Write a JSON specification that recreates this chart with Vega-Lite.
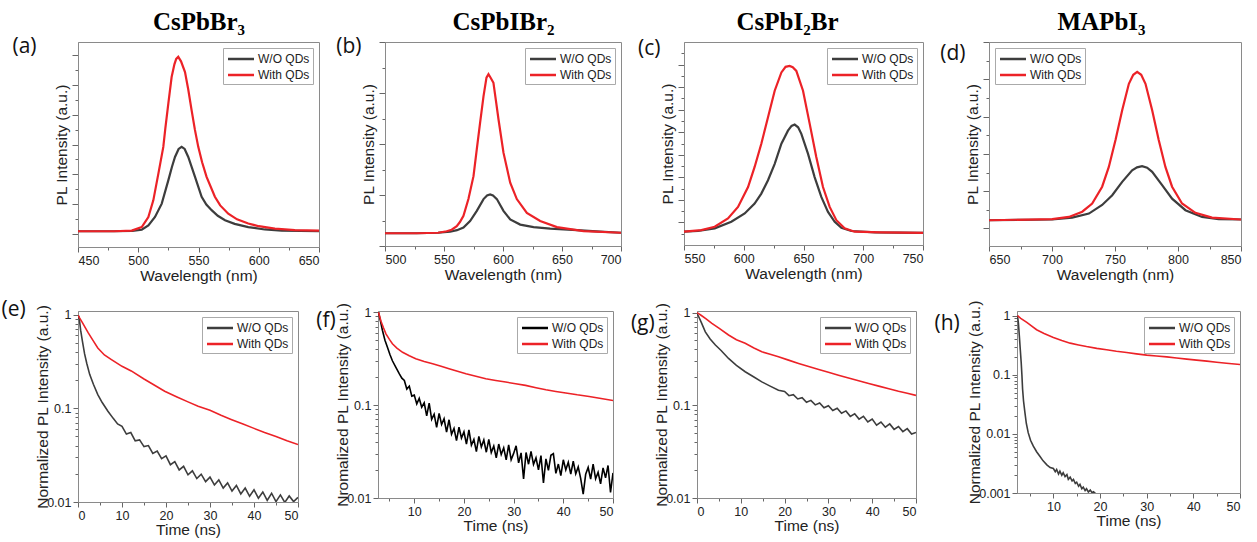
{
"$schema": "https://vega.github.io/schema/vega-lite/v6.json",
"padding": {"left": 0, "top": 8, "right": 5, "bottom": 2},
"resolve": {"scale": {"color": "independent"}},
"datasets": {
"a": [
{"s":"W/O QDs","x":450,"y":0.08},{"s":"W/O QDs","x":480,"y":0.08},{"s":"W/O QDs","x":495,"y":0.09},{"s":"W/O QDs","x":502.9,"y":0.13},{"s":"W/O QDs","x":508.4,"y":0.28},{"s":"W/O QDs","x":513.9,"y":0.56},{"s":"W/O QDs","x":519.5,"y":1.01},{"s":"W/O QDs","x":525,"y":1.8},{"s":"W/O QDs","x":528,"y":2.25},{"s":"W/O QDs","x":530.5,"y":2.58},{"s":"W/O QDs","x":533.5,"y":2.85},{"s":"W/O QDs","x":536,"y":2.92},{"s":"W/O QDs","x":538.5,"y":2.85},{"s":"W/O QDs","x":541.5,"y":2.58},{"s":"W/O QDs","x":544.3,"y":2.25},{"s":"W/O QDs","x":547.1,"y":1.91},{"s":"W/O QDs","x":552.6,"y":1.24},{"s":"W/O QDs","x":556.5,"y":0.98},{"s":"W/O QDs","x":560.9,"y":0.79},{"s":"W/O QDs","x":566,"y":0.6},{"s":"W/O QDs","x":572,"y":0.45},{"s":"W/O QDs","x":580,"y":0.33},{"s":"W/O QDs","x":591.3,"y":0.22},{"s":"W/O QDs","x":605,"y":0.14},{"s":"W/O QDs","x":619,"y":0.1},{"s":"W/O QDs","x":650,"y":0.08},
{"s":"With QDs","x":450,"y":0.08},{"s":"With QDs","x":480,"y":0.08},{"s":"With QDs","x":494.6,"y":0.1},{"s":"With QDs","x":502.9,"y":0.22},{"s":"With QDs","x":508.4,"y":0.56},{"s":"With QDs","x":512.5,"y":1.12},{"s":"With QDs","x":516.7,"y":2.02},{"s":"With QDs","x":520.8,"y":2.92},{"s":"With QDs","x":522.5,"y":3.55},{"s":"With QDs","x":525,"y":4.39},{"s":"With QDs","x":527.7,"y":5.27},{"s":"With QDs","x":530,"y":5.7},{"s":"With QDs","x":531.5,"y":5.88},{"s":"With QDs","x":533.2,"y":5.95},{"s":"With QDs","x":535.5,"y":5.8},{"s":"With QDs","x":538.8,"y":5.44},{"s":"With QDs","x":541.5,"y":4.85},{"s":"With QDs","x":544.3,"y":4.15},{"s":"With QDs","x":547,"y":3.5},{"s":"With QDs","x":549.8,"y":2.92},{"s":"With QDs","x":553,"y":2.4},{"s":"With QDs","x":556.7,"y":1.91},{"s":"With QDs","x":563.6,"y":1.24},{"s":"With QDs","x":568,"y":0.95},{"s":"With QDs","x":574.7,"y":0.67},{"s":"With QDs","x":582,"y":0.48},{"s":"With QDs","x":591.3,"y":0.34},{"s":"With QDs","x":600,"y":0.25},{"s":"With QDs","x":613.4,"y":0.17},{"s":"With QDs","x":630,"y":0.12},{"s":"With QDs","x":650,"y":0.1}
],
"b": [
{"s":"W/O QDs","x":500,"y":0.25},{"s":"W/O QDs","x":527,"y":0.25},{"s":"W/O QDs","x":545,"y":0.26},{"s":"W/O QDs","x":555.2,"y":0.28},{"s":"W/O QDs","x":561,"y":0.31},{"s":"W/O QDs","x":566.5,"y":0.36},{"s":"W/O QDs","x":572.1,"y":0.49},{"s":"W/O QDs","x":577.8,"y":0.69},{"s":"W/O QDs","x":583.5,"y":0.92},{"s":"W/O QDs","x":586.5,"y":0.99},{"s":"W/O QDs","x":589.1,"y":1.01},{"s":"W/O QDs","x":591.5,"y":0.99},{"s":"W/O QDs","x":594.8,"y":0.92},{"s":"W/O QDs","x":600.4,"y":0.69},{"s":"W/O QDs","x":606.1,"y":0.52},{"s":"W/O QDs","x":614.6,"y":0.42},{"s":"W/O QDs","x":625.9,"y":0.37},{"s":"W/O QDs","x":640,"y":0.34},{"s":"W/O QDs","x":662.7,"y":0.31},{"s":"W/O QDs","x":682.5,"y":0.28},{"s":"W/O QDs","x":700,"y":0.26},
{"s":"With QDs","x":500,"y":0.25},{"s":"With QDs","x":526.9,"y":0.25},{"s":"With QDs","x":545,"y":0.26},{"s":"With QDs","x":552.3,"y":0.29},{"s":"With QDs","x":556.5,"y":0.32},{"s":"With QDs","x":560.8,"y":0.39},{"s":"With QDs","x":563.5,"y":0.47},{"s":"With QDs","x":566.5,"y":0.59},{"s":"With QDs","x":570.7,"y":0.92},{"s":"With QDs","x":575,"y":1.37},{"s":"With QDs","x":577.8,"y":1.9},{"s":"With QDs","x":580.6,"y":2.42},{"s":"With QDs","x":583.5,"y":2.94},{"s":"With QDs","x":586,"y":3.3},{"s":"With QDs","x":587.7,"y":3.37},{"s":"With QDs","x":589.5,"y":3.3},{"s":"With QDs","x":591.9,"y":3.2},{"s":"With QDs","x":594,"y":2.85},{"s":"With QDs","x":596.2,"y":2.48},{"s":"With QDs","x":600.4,"y":1.83},{"s":"With QDs","x":606.1,"y":1.24},{"s":"With QDs","x":611.7,"y":0.92},{"s":"With QDs","x":620.2,"y":0.65},{"s":"With QDs","x":631.5,"y":0.49},{"s":"With QDs","x":645.7,"y":0.37},{"s":"With QDs","x":668.3,"y":0.29},{"s":"With QDs","x":700,"y":0.26}
],
"c": [
{"s":"W/O QDs","x":550,"y":0.59},{"s":"W/O QDs","x":561.7,"y":0.62},{"s":"W/O QDs","x":575.7,"y":0.74},{"s":"W/O QDs","x":589.6,"y":1.03},{"s":"W/O QDs","x":600.8,"y":1.4},{"s":"W/O QDs","x":609.1,"y":1.84},{"s":"W/O QDs","x":614.7,"y":2.28},{"s":"W/O QDs","x":620.3,"y":2.87},{"s":"W/O QDs","x":625.9,"y":3.6},{"s":"W/O QDs","x":631.5,"y":4.49},{"s":"W/O QDs","x":637,"y":5.07},{"s":"W/O QDs","x":640,"y":5.28},{"s":"W/O QDs","x":642.6,"y":5.34},{"s":"W/O QDs","x":645.5,"y":5.22},{"s":"W/O QDs","x":648.2,"y":4.93},{"s":"W/O QDs","x":653.8,"y":4.04},{"s":"W/O QDs","x":659.3,"y":3.01},{"s":"W/O QDs","x":664.9,"y":2.13},{"s":"W/O QDs","x":670.5,"y":1.47},{"s":"W/O QDs","x":676.1,"y":1.03},{"s":"W/O QDs","x":681.7,"y":0.76},{"s":"W/O QDs","x":690,"y":0.62},{"s":"W/O QDs","x":710,"y":0.56},{"s":"W/O QDs","x":750,"y":0.54},
{"s":"With QDs","x":550,"y":0.59},{"s":"With QDs","x":564.5,"y":0.66},{"s":"With QDs","x":575.7,"y":0.81},{"s":"With QDs","x":586.8,"y":1.18},{"s":"With QDs","x":595.2,"y":1.69},{"s":"With QDs","x":603.6,"y":2.57},{"s":"With QDs","x":609.1,"y":3.46},{"s":"With QDs","x":614.7,"y":4.49},{"s":"With QDs","x":620.3,"y":5.66},{"s":"With QDs","x":625.9,"y":6.84},{"s":"With QDs","x":631.5,"y":7.65},{"s":"With QDs","x":635,"y":7.9},{"s":"With QDs","x":638.4,"y":7.94},{"s":"With QDs","x":641,"y":7.88},{"s":"With QDs","x":644,"y":7.72},{"s":"With QDs","x":649.6,"y":6.84},{"s":"With QDs","x":655.2,"y":5.37},{"s":"With QDs","x":660.7,"y":3.9},{"s":"With QDs","x":666.3,"y":2.57},{"s":"With QDs","x":671.9,"y":1.69},{"s":"With QDs","x":677.5,"y":1.1},{"s":"With QDs","x":684.4,"y":0.74},{"s":"With QDs","x":692.8,"y":0.59},{"s":"With QDs","x":715,"y":0.56},{"s":"With QDs","x":750,"y":0.54}
],
"d": [
{"s":"W/O QDs","x":650,"y":0.22},{"s":"W/O QDs","x":700.2,"y":0.24},{"s":"W/O QDs","x":716,"y":0.29},{"s":"W/O QDs","x":729.3,"y":0.4},{"s":"W/O QDs","x":739.8,"y":0.63},{"s":"W/O QDs","x":747.8,"y":0.89},{"s":"W/O QDs","x":755.7,"y":1.25},{"s":"W/O QDs","x":763.6,"y":1.56},{"s":"W/O QDs","x":767.5,"y":1.64},{"s":"W/O QDs","x":771.5,"y":1.67},{"s":"W/O QDs","x":775.5,"y":1.63},{"s":"W/O QDs","x":779.5,"y":1.52},{"s":"W/O QDs","x":787.4,"y":1.16},{"s":"W/O QDs","x":795.3,"y":0.8},{"s":"W/O QDs","x":805.9,"y":0.49},{"s":"W/O QDs","x":819.1,"y":0.31},{"s":"W/O QDs","x":832.3,"y":0.25},{"s":"W/O QDs","x":850,"y":0.24},
{"s":"With QDs","x":650,"y":0.22},{"s":"With QDs","x":700.2,"y":0.25},{"s":"With QDs","x":713.4,"y":0.31},{"s":"With QDs","x":724,"y":0.45},{"s":"With QDs","x":731.9,"y":0.67},{"s":"With QDs","x":739.8,"y":1.12},{"s":"With QDs","x":745.1,"y":1.65},{"s":"With QDs","x":750.4,"y":2.37},{"s":"With QDs","x":755.7,"y":3.17},{"s":"With QDs","x":761,"y":3.88},{"s":"With QDs","x":764.5,"y":4.12},{"s":"With QDs","x":767.6,"y":4.2},{"s":"With QDs","x":770.8,"y":4.12},{"s":"With QDs","x":774.2,"y":3.88},{"s":"With QDs","x":779.5,"y":3.17},{"s":"With QDs","x":784.7,"y":2.37},{"s":"With QDs","x":790,"y":1.65},{"s":"With QDs","x":795.3,"y":1.12},{"s":"With QDs","x":803.2,"y":0.67},{"s":"With QDs","x":813.8,"y":0.42},{"s":"With QDs","x":827,"y":0.29},{"s":"With QDs","x":850,"y":0.24}
],
"e": [
{"s":"W/O QDs","x":0,"y":0.9},{"s":"W/O QDs","x":0.2,"y":0.97},{"s":"W/O QDs","x":0.4,"y":0.82},{"s":"W/O QDs","x":0.6,"y":0.68},{"s":"W/O QDs","x":1,"y":0.52},{"s":"W/O QDs","x":1.5,"y":0.38},{"s":"W/O QDs","x":2,"y":0.3},{"s":"W/O QDs","x":2.65,"y":0.23},{"s":"W/O QDs","x":3.5,"y":0.18},{"s":"W/O QDs","x":4.5,"y":0.14},{"s":"W/O QDs","x":5.5,"y":0.115},{"s":"W/O QDs","x":6.8,"y":0.093},{"s":"W/O QDs","x":8,"y":0.078},{"s":"W/O QDs","x":9,"y":0.068},
{"s":"W/O QDs","x":10,"y":0.064},{"s":"W/O QDs","x":11,"y":0.053},{"s":"W/O QDs","x":12,"y":0.055},{"s":"W/O QDs","x":13,"y":0.045},{"s":"W/O QDs","x":14,"y":0.046},{"s":"W/O QDs","x":15,"y":0.039},{"s":"W/O QDs","x":16,"y":0.04},{"s":"W/O QDs","x":17,"y":0.033},{"s":"W/O QDs","x":18,"y":0.035},{"s":"W/O QDs","x":19,"y":0.029},{"s":"W/O QDs","x":20,"y":0.031},{"s":"W/O QDs","x":21,"y":0.025},{"s":"W/O QDs","x":22,"y":0.027},{"s":"W/O QDs","x":23,"y":0.022},{"s":"W/O QDs","x":24,"y":0.024},{"s":"W/O QDs","x":25,"y":0.0195},{"s":"W/O QDs","x":26,"y":0.0215},{"s":"W/O QDs","x":27,"y":0.0178},{"s":"W/O QDs","x":28,"y":0.0198},{"s":"W/O QDs","x":29,"y":0.0165},{"s":"W/O QDs","x":30,"y":0.0184},{"s":"W/O QDs","x":31,"y":0.0152},{"s":"W/O QDs","x":32,"y":0.0172},{"s":"W/O QDs","x":33,"y":0.0141},{"s":"W/O QDs","x":34,"y":0.016},{"s":"W/O QDs","x":35,"y":0.0131},{"s":"W/O QDs","x":36,"y":0.015},{"s":"W/O QDs","x":37,"y":0.0122},{"s":"W/O QDs","x":38,"y":0.0141},{"s":"W/O QDs","x":39,"y":0.0115},{"s":"W/O QDs","x":40,"y":0.0135},{"s":"W/O QDs","x":41,"y":0.011},{"s":"W/O QDs","x":42,"y":0.0128},{"s":"W/O QDs","x":43,"y":0.0104},{"s":"W/O QDs","x":44,"y":0.0124},{"s":"W/O QDs","x":45,"y":0.0101},{"s":"W/O QDs","x":46,"y":0.0119},{"s":"W/O QDs","x":47,"y":0.0099},{"s":"W/O QDs","x":48,"y":0.0116},{"s":"W/O QDs","x":49,"y":0.0101},{"s":"W/O QDs","x":50,"y":0.0112},
{"s":"With QDs","x":0,"y":0.98},{"s":"With QDs","x":1,"y":0.82},{"s":"With QDs","x":2.3,"y":0.64},{"s":"With QDs","x":3.4,"y":0.53},{"s":"With QDs","x":4.5,"y":0.44},{"s":"With QDs","x":6,"y":0.37},{"s":"With QDs","x":7.6,"y":0.33},{"s":"With QDs","x":10,"y":0.28},{"s":"With QDs","x":12.1,"y":0.25},{"s":"With QDs","x":15,"y":0.205},{"s":"With QDs","x":17.5,"y":0.175},{"s":"With QDs","x":19.7,"y":0.152},{"s":"With QDs","x":22.5,"y":0.132},{"s":"With QDs","x":25,"y":0.117},{"s":"With QDs","x":27.3,"y":0.105},{"s":"With QDs","x":30,"y":0.095},{"s":"With QDs","x":32.5,"y":0.084},{"s":"With QDs","x":34.8,"y":0.076},{"s":"With QDs","x":37.5,"y":0.068},{"s":"With QDs","x":40,"y":0.061},{"s":"With QDs","x":42.4,"y":0.055},{"s":"With QDs","x":45,"y":0.05},{"s":"With QDs","x":47.5,"y":0.045},{"s":"With QDs","x":50,"y":0.041}
],
"f": [
{"s":"W/O QDs","x":2.8,"y":1.0},{"s":"W/O QDs","x":3.2,"y":0.8},{"s":"W/O QDs","x":3.6,"y":0.635},{"s":"W/O QDs","x":4.1,"y":0.5},{"s":"W/O QDs","x":4.6,"y":0.42},{"s":"W/O QDs","x":5.1,"y":0.35},{"s":"W/O QDs","x":5.6,"y":0.3},{"s":"W/O QDs","x":6.3,"y":0.255},{"s":"W/O QDs","x":7,"y":0.217},{"s":"W/O QDs","x":7.5,"y":0.195},
{"s":"W/O QDs","x":8,"y":0.184},{"s":"W/O QDs","x":8.5,"y":0.149},{"s":"W/O QDs","x":9,"y":0.16},{"s":"W/O QDs","x":9.5,"y":0.125},{"s":"W/O QDs","x":10,"y":0.128},{"s":"W/O QDs","x":10.5,"y":0.103},{"s":"W/O QDs","x":11,"y":0.118},{"s":"W/O QDs","x":11.5,"y":0.095},{"s":"W/O QDs","x":12,"y":0.106},{"s":"W/O QDs","x":12.5,"y":0.0765},{"s":"W/O QDs","x":13,"y":0.105},{"s":"W/O QDs","x":13.5,"y":0.0704},{"s":"W/O QDs","x":14,"y":0.0798},{"s":"W/O QDs","x":14.5,"y":0.0576},{"s":"W/O QDs","x":15,"y":0.0816},{"s":"W/O QDs","x":15.5,"y":0.0618},{"s":"W/O QDs","x":16,"y":0.0713},{"s":"W/O QDs","x":16.5,"y":0.0513},{"s":"W/O QDs","x":17,"y":0.0695},{"s":"W/O QDs","x":17.5,"y":0.0486},{"s":"W/O QDs","x":18,"y":0.0562},{"s":"W/O QDs","x":18.5,"y":0.0414},{"s":"W/O QDs","x":19,"y":0.0578},{"s":"W/O QDs","x":19.5,"y":0.0442},{"s":"W/O QDs","x":20,"y":0.0515},{"s":"W/O QDs","x":20.5,"y":0.038},{"s":"W/O QDs","x":21,"y":0.0541},{"s":"W/O QDs","x":21.5,"y":0.037},{"s":"W/O QDs","x":22,"y":0.0427},{"s":"W/O QDs","x":22.5,"y":0.0316},{"s":"W/O QDs","x":23,"y":0.046},{"s":"W/O QDs","x":23.5,"y":0.0355},{"s":"W/O QDs","x":24,"y":0.0421},{"s":"W/O QDs","x":24.5,"y":0.0311},{"s":"W/O QDs","x":25,"y":0.0427},{"s":"W/O QDs","x":25.5,"y":0.0309},{"s":"W/O QDs","x":26,"y":0.0363},{"s":"W/O QDs","x":26.5,"y":0.0271},{"s":"W/O QDs","x":27,"y":0.0381},{"s":"W/O QDs","x":27.5,"y":0.0294},{"s":"W/O QDs","x":28,"y":0.0347},{"s":"W/O QDs","x":28.5,"y":0.0258},{"s":"W/O QDs","x":29,"y":0.0373},{"s":"W/O QDs","x":29.5,"y":0.0258},{"s":"W/O QDs","x":30,"y":0.0302},{"s":"W/O QDs","x":30.5,"y":0.0365},{"s":"W/O QDs","x":31,"y":0.0239},{"s":"W/O QDs","x":31.5,"y":0.0306},{"s":"W/O QDs","x":32,"y":0.016},{"s":"W/O QDs","x":32.5,"y":0.0309},{"s":"W/O QDs","x":33,"y":0.0231},{"s":"W/O QDs","x":33.5,"y":0.0317},{"s":"W/O QDs","x":34,"y":0.023},{"s":"W/O QDs","x":34.5,"y":0.027},{"s":"W/O QDs","x":35,"y":0.0201},{"s":"W/O QDs","x":35.5,"y":0.0286},{"s":"W/O QDs","x":36,"y":0.0145},{"s":"W/O QDs","x":36.5,"y":0.0264},{"s":"W/O QDs","x":37,"y":0.0198},{"s":"W/O QDs","x":37.5,"y":0.0288},{"s":"W/O QDs","x":38,"y":0.03},{"s":"W/O QDs","x":38.5,"y":0.0184},{"s":"W/O QDs","x":39,"y":0.0232},{"s":"W/O QDs","x":39.5,"y":0.0174},{"s":"W/O QDs","x":40,"y":0.0258},{"s":"W/O QDs","x":40.5,"y":0.0201},{"s":"W/O QDs","x":41,"y":0.0242},{"s":"W/O QDs","x":41.5,"y":0.0181},{"s":"W/O QDs","x":42,"y":0.025},{"s":"W/O QDs","x":42.5,"y":0.0182},{"s":"W/O QDs","x":43,"y":0.0216},{"s":"W/O QDs","x":43.5,"y":0.0162},{"s":"W/O QDs","x":44,"y":0.011},{"s":"W/O QDs","x":44.5,"y":0.018},{"s":"W/O QDs","x":45,"y":0.0213},{"s":"W/O QDs","x":45.5,"y":0.016},{"s":"W/O QDs","x":46,"y":0.0231},{"s":"W/O QDs","x":46.5,"y":0.0161},{"s":"W/O QDs","x":47,"y":0.0189},{"s":"W/O QDs","x":47.5,"y":0.0142},{"s":"W/O QDs","x":48,"y":0.0211},{"s":"W/O QDs","x":48.5,"y":0.0165},{"s":"W/O QDs","x":49,"y":0.0224},{"s":"W/O QDs","x":49.5,"y":0.0115},{"s":"W/O QDs","x":50,"y":0.0186},
{"s":"With QDs","x":2.8,"y":1.0},{"s":"With QDs","x":3.3,"y":0.8},{"s":"With QDs","x":3.8,"y":0.68},{"s":"With QDs","x":4.3,"y":0.585},{"s":"With QDs","x":5,"y":0.51},{"s":"With QDs","x":5.6,"y":0.457},{"s":"With QDs","x":6.5,"y":0.41},{"s":"With QDs","x":7.65,"y":0.37},{"s":"With QDs","x":9,"y":0.34},{"s":"With QDs","x":10.3,"y":0.316},{"s":"With QDs","x":12,"y":0.295},{"s":"With QDs","x":13.7,"y":0.278},{"s":"With QDs","x":15.4,"y":0.262},{"s":"With QDs","x":17,"y":0.246},{"s":"With QDs","x":18.7,"y":0.231},{"s":"With QDs","x":20.4,"y":0.217},{"s":"With QDs","x":22.4,"y":0.204},{"s":"With QDs","x":24.4,"y":0.192},{"s":"With QDs","x":26.4,"y":0.184},{"s":"With QDs","x":28.4,"y":0.177},{"s":"With QDs","x":30.4,"y":0.17},{"s":"With QDs","x":32.4,"y":0.163},{"s":"With QDs","x":34.5,"y":0.154},{"s":"With QDs","x":36.5,"y":0.146},{"s":"With QDs","x":38.5,"y":0.14},{"s":"With QDs","x":40.5,"y":0.135},{"s":"With QDs","x":42.8,"y":0.129},{"s":"With QDs","x":45.2,"y":0.124},{"s":"With QDs","x":47.6,"y":0.118},{"s":"With QDs","x":50,"y":0.112}
],
"g": [
{"s":"W/O QDs","x":0,"y":0.98},{"s":"W/O QDs","x":0.5,"y":0.88},{"s":"W/O QDs","x":1,"y":0.78},{"s":"W/O QDs","x":1.9,"y":0.62},{"s":"W/O QDs","x":3,"y":0.52},{"s":"W/O QDs","x":4.2,"y":0.447},{"s":"W/O QDs","x":5.5,"y":0.39},{"s":"W/O QDs","x":7.2,"y":0.32},{"s":"W/O QDs","x":9,"y":0.27},{"s":"W/O QDs","x":11,"y":0.23},{"s":"W/O QDs","x":12.9,"y":0.203},{"s":"W/O QDs","x":14.8,"y":0.179},{"s":"W/O QDs","x":16.7,"y":0.161},{"s":"W/O QDs","x":18.6,"y":0.145},
{"s":"W/O QDs","x":20,"y":0.141},{"s":"W/O QDs","x":21,"y":0.127},{"s":"W/O QDs","x":22,"y":0.13},{"s":"W/O QDs","x":23,"y":0.117},{"s":"W/O QDs","x":24,"y":0.121},{"s":"W/O QDs","x":25,"y":0.108},{"s":"W/O QDs","x":26,"y":0.113},{"s":"W/O QDs","x":27,"y":0.101},{"s":"W/O QDs","x":28,"y":0.106},{"s":"W/O QDs","x":29,"y":0.094},{"s":"W/O QDs","x":30,"y":0.099},{"s":"W/O QDs","x":31,"y":0.088},{"s":"W/O QDs","x":32,"y":0.093},{"s":"W/O QDs","x":33,"y":0.082},{"s":"W/O QDs","x":34,"y":0.087},{"s":"W/O QDs","x":35,"y":0.076},{"s":"W/O QDs","x":36,"y":0.081},{"s":"W/O QDs","x":37,"y":0.071},{"s":"W/O QDs","x":38,"y":0.076},{"s":"W/O QDs","x":39,"y":0.066},{"s":"W/O QDs","x":40,"y":0.071},{"s":"W/O QDs","x":41,"y":0.061},{"s":"W/O QDs","x":42,"y":0.066},{"s":"W/O QDs","x":43,"y":0.058},{"s":"W/O QDs","x":44,"y":0.063},{"s":"W/O QDs","x":45,"y":0.055},{"s":"W/O QDs","x":46,"y":0.059},{"s":"W/O QDs","x":47,"y":0.052},{"s":"W/O QDs","x":48,"y":0.056},{"s":"W/O QDs","x":49,"y":0.049},{"s":"W/O QDs","x":50,"y":0.051},
{"s":"With QDs","x":0,"y":1.0},{"s":"With QDs","x":1,"y":0.93},{"s":"With QDs","x":2,"y":0.86},{"s":"With QDs","x":3.4,"y":0.766},{"s":"With QDs","x":5,"y":0.68},{"s":"With QDs","x":7.2,"y":0.573},{"s":"With QDs","x":9,"y":0.51},{"s":"With QDs","x":11,"y":0.466},{"s":"With QDs","x":13,"y":0.415},{"s":"With QDs","x":14.8,"y":0.378},{"s":"With QDs","x":16.7,"y":0.355},{"s":"With QDs","x":18.6,"y":0.334},{"s":"With QDs","x":20.9,"y":0.307},{"s":"With QDs","x":23.2,"y":0.283},{"s":"With QDs","x":25.5,"y":0.262},{"s":"With QDs","x":27.8,"y":0.243},{"s":"With QDs","x":30,"y":0.227},{"s":"With QDs","x":32.3,"y":0.211},{"s":"With QDs","x":34.6,"y":0.197},{"s":"With QDs","x":36.9,"y":0.184},{"s":"With QDs","x":39.2,"y":0.172},{"s":"With QDs","x":41.5,"y":0.161},{"s":"With QDs","x":43.8,"y":0.151},{"s":"With QDs","x":46,"y":0.142},{"s":"With QDs","x":48,"y":0.135},{"s":"With QDs","x":50,"y":0.128}
],
"h": [
{"s":"W/O QDs","x":2.3,"y":1.0},{"s":"W/O QDs","x":2.5,"y":0.75},{"s":"W/O QDs","x":2.7,"y":0.457},{"s":"W/O QDs","x":2.9,"y":0.27},{"s":"W/O QDs","x":3.1,"y":0.161},{"s":"W/O QDs","x":3.25,"y":0.1},{"s":"W/O QDs","x":3.4,"y":0.057},{"s":"W/O QDs","x":3.6,"y":0.036},{"s":"W/O QDs","x":3.9,"y":0.0229},{"s":"W/O QDs","x":4.2,"y":0.015},{"s":"W/O QDs","x":4.6,"y":0.0105},{"s":"W/O QDs","x":5.1,"y":0.0078},{"s":"W/O QDs","x":5.7,"y":0.0062},{"s":"W/O QDs","x":6.4,"y":0.005},{"s":"W/O QDs","x":7.1,"y":0.0042},{"s":"W/O QDs","x":7.8,"y":0.0035},{"s":"W/O QDs","x":8.6,"y":0.003},{"s":"W/O QDs","x":9.3,"y":0.0027},{"s":"W/O QDs","x":10,"y":0.0026},{"s":"W/O QDs","x":10.4,"y":0.0023},{"s":"W/O QDs","x":10.7,"y":0.0025},{"s":"W/O QDs","x":11.1,"y":0.0021},{"s":"W/O QDs","x":11.4,"y":0.00235},{"s":"W/O QDs","x":11.8,"y":0.002},{"s":"W/O QDs","x":12.1,"y":0.0022},{"s":"W/O QDs","x":12.5,"y":0.0019},{"s":"W/O QDs","x":12.9,"y":0.00205},{"s":"W/O QDs","x":13.2,"y":0.0017},{"s":"W/O QDs","x":13.6,"y":0.00185},{"s":"W/O QDs","x":14,"y":0.0016},{"s":"W/O QDs","x":14.3,"y":0.0017},{"s":"W/O QDs","x":14.7,"y":0.00145},{"s":"W/O QDs","x":15,"y":0.00152},{"s":"W/O QDs","x":15.4,"y":0.0013},{"s":"W/O QDs","x":15.7,"y":0.0014},{"s":"W/O QDs","x":16.1,"y":0.00118},{"s":"W/O QDs","x":16.4,"y":0.00126},{"s":"W/O QDs","x":16.8,"y":0.0011},{"s":"W/O QDs","x":17.1,"y":0.00118},{"s":"W/O QDs","x":17.5,"y":0.00104},{"s":"W/O QDs","x":17.9,"y":0.00112},{"s":"W/O QDs","x":18.3,"y":0.00101},{"s":"W/O QDs","x":18.6,"y":0.00105},{"s":"W/O QDs","x":19,"y":0.00099},
{"s":"With QDs","x":2.3,"y":1.0},{"s":"With QDs","x":3,"y":0.9},{"s":"With QDs","x":4.3,"y":0.77},{"s":"With QDs","x":5.3,"y":0.67},{"s":"With QDs","x":6.4,"y":0.578},{"s":"With QDs","x":8,"y":0.5},{"s":"With QDs","x":10,"y":0.428},{"s":"With QDs","x":11.8,"y":0.38},{"s":"With QDs","x":13.6,"y":0.343},{"s":"With QDs","x":15.4,"y":0.32},{"s":"With QDs","x":17.1,"y":0.3},{"s":"With QDs","x":19.3,"y":0.28},{"s":"With QDs","x":21.4,"y":0.265},{"s":"With QDs","x":23.5,"y":0.25},{"s":"With QDs","x":25.7,"y":0.238},{"s":"With QDs","x":27.8,"y":0.226},{"s":"With QDs","x":30,"y":0.215},{"s":"With QDs","x":32.1,"y":0.208},{"s":"With QDs","x":34.3,"y":0.201},{"s":"With QDs","x":36.4,"y":0.192},{"s":"With QDs","x":38.6,"y":0.184},{"s":"With QDs","x":40.7,"y":0.177},{"s":"With QDs","x":42.9,"y":0.17},{"s":"With QDs","x":45,"y":0.163},{"s":"With QDs","x":47.1,"y":0.157},{"s":"With QDs","x":50,"y":0.149}
]
},
"vconcat": [
{"spacing": 11, "resolve": {"scale": {"color": "independent"}}, "hconcat": [
 {"width": 241, "height": 205, "data": {"name": "a"},
  "title": {"text": "(a)", "orient": "left", "anchor": "end", "frame": "group", "angle": 0, "align": "left", "baseline": "top", "offset": 18, "dy": -6},
  "resolve": {"axis": {"x": "independent"}},
  "layer": [
   {"mark": {"type": "line", "strokeWidth": 2.2},
    "encoding": {
     "x": {"field": "x", "type": "quantitative", "scale": {"domain": [450, 650], "nice": false, "zero": false}, "axis": {"title": "Wavelength (nm)", "values": [450,475,500,525,550,575,600,625,650], "labelExpr": "datum.value % 50 === 0 ? datum.label : ''", "tickSize": {"condition": {"test": "datum.value % 50 === 0", "value": 5}, "value": 3}}},
     "y": {"field": "y", "type": "quantitative", "scale": {"domain": [-0.45, 6.45], "nice": false, "zero": false}, "axis": {"title": "PL Intensity (a.u.)", "labels": false, "values": [0,0.5,1,1.5,2,2.5,3,3.5,4,4.5,5,5.5,6], "tickSize": {"condition": {"test": "datum.value % 1 === 0", "value": 6}, "value": 3}}},
     "color": {"field": "s", "type": "nominal", "scale": {"domain": ["W/O QDs","With QDs"], "range": ["#3d3d3d","#ec2227"]}, "legend": {"title": null, "orient": "top-right"}}
    }},
   {"mark": {"type": "rule", "opacity": 0},
    "encoding": {"x": {"field": "x", "type": "quantitative", "axis": {"orient": "top", "title": "CsPbBr₃", "labels": false, "ticks": false, "domain": false, "titleFont": "Liberation Serif", "titleFontSize": 25, "titleFontWeight": "bold", "titleColor": "#000", "titlePadding": 8}}}}
  ]},
 {"width": 236, "height": 204, "data": {"name": "b"},
  "title": {"text": "(b)", "orient": "left", "anchor": "end", "frame": "group", "angle": 0, "align": "left", "baseline": "top", "offset": 0, "dy": -6},
  "resolve": {"axis": {"x": "independent"}},
  "layer": [
   {"mark": {"type": "line", "strokeWidth": 2.2},
    "encoding": {
     "x": {"field": "x", "type": "quantitative", "scale": {"domain": [500, 700], "nice": false, "zero": false}, "axis": {"title": "Wavelength (nm)", "values": [500,525,550,575,600,625,650,675,700], "labelExpr": "datum.value % 50 === 0 ? datum.label : ''", "tickSize": {"condition": {"test": "datum.value % 50 === 0", "value": 5}, "value": 3}}},
     "y": {"field": "y", "type": "quantitative", "scale": {"domain": [0, 4], "nice": false, "zero": false}, "axis": {"title": "PL Intensity (a.u.)", "labels": false, "values": [0,0.5,1,1.5,2,2.5,3,3.5,4], "tickSize": {"condition": {"test": "datum.value % 1 === 0", "value": 6}, "value": 3}}},
     "color": {"field": "s", "type": "nominal", "scale": {"domain": ["W/O QDs","With QDs"], "range": ["#3d3d3d","#ec2227"]}, "legend": {"title": null, "orient": "top-right"}}
    }},
   {"mark": {"type": "rule", "opacity": 0},
    "encoding": {"x": {"field": "x", "type": "quantitative", "axis": {"orient": "top", "title": "CsPbIBr₂", "labels": false, "ticks": false, "domain": false, "titleFont": "Liberation Serif", "titleFontSize": 25, "titleFontWeight": "bold", "titleColor": "#000", "titlePadding": 8}}}}
  ]},
 {"width": 239, "height": 203, "data": {"name": "c"},
  "title": {"text": "(c)", "orient": "left", "anchor": "end", "frame": "group", "angle": 0, "align": "left", "baseline": "top", "offset": 0, "dy": -4},
  "resolve": {"axis": {"x": "independent"}},
  "layer": [
   {"mark": {"type": "line", "strokeWidth": 2.2},
    "encoding": {
     "x": {"field": "x", "type": "quantitative", "scale": {"domain": [550, 750], "nice": false, "zero": false}, "axis": {"title": "Wavelength (nm)", "values": [550,575,600,625,650,675,700,725,750], "labelExpr": "datum.value % 50 === 0 ? datum.label : ''", "tickSize": {"condition": {"test": "datum.value % 50 === 0", "value": 5}, "value": 3}}},
     "y": {"field": "y", "type": "quantitative", "scale": {"domain": [0, 9], "nice": false, "zero": false}, "axis": {"title": "PL Intensity (a.u.)", "labels": false, "values": [0.5,1,1.5,2,2.5,3,3.5,4,4.5,5,5.5,6,6.5,7,7.5,8,8.5], "tickSize": {"condition": {"test": "datum.value % 1 === 0", "value": 6}, "value": 3}}},
     "color": {"field": "s", "type": "nominal", "scale": {"domain": ["W/O QDs","With QDs"], "range": ["#3d3d3d","#ec2227"]}, "legend": {"title": null, "orient": "top-right"}}
    }},
   {"mark": {"type": "rule", "opacity": 0},
    "encoding": {"x": {"field": "x", "type": "quantitative", "axis": {"orient": "top", "title": "CsPbI₂Br", "titleX": 103, "labels": false, "ticks": false, "domain": false, "titleFont": "Liberation Serif", "titleFontSize": 25, "titleFontWeight": "bold", "titleColor": "#000", "titlePadding": 8}}}}
  ]},
 {"width": 252, "height": 204, "data": {"name": "d"},
  "title": {"text": "(d)", "orient": "left", "anchor": "end", "frame": "group", "angle": 0, "align": "left", "baseline": "top", "offset": 0, "dy": 1},
  "resolve": {"axis": {"x": "independent"}},
  "layer": [
   {"mark": {"type": "line", "strokeWidth": 2.2},
    "encoding": {
     "x": {"field": "x", "type": "quantitative", "scale": {"domain": [650, 850], "nice": false, "zero": false}, "axis": {"title": "Wavelength (nm)", "values": [650,675,700,725,750,775,800,825,850], "labelExpr": "datum.value % 50 === 0 ? datum.label : ''", "tickSize": {"condition": {"test": "datum.value % 50 === 0", "value": 5}, "value": 3}}},
     "y": {"field": "y", "type": "quantitative", "scale": {"domain": [-0.47, 5], "nice": false, "zero": false}, "axis": {"title": "PL Intensity (a.u.)", "labels": false, "values": [0,0.5,1,1.5,2,2.5,3,3.5,4,4.5,5], "tickSize": {"condition": {"test": "datum.value % 1 === 0", "value": 6}, "value": 3}}},
     "color": {"field": "s", "type": "nominal", "scale": {"domain": ["W/O QDs","With QDs"], "range": ["#3d3d3d","#ec2227"]}, "legend": {"title": null, "orient": "top-left"}}
    }},
   {"mark": {"type": "rule", "opacity": 0},
    "encoding": {"x": {"field": "x", "type": "quantitative", "axis": {"orient": "top", "title": "MAPbI₃", "titleX": 112, "labels": false, "ticks": false, "domain": false, "titleFont": "Liberation Serif", "titleFontSize": 25, "titleFontWeight": "bold", "titleColor": "#000", "titlePadding": 8}}}}
  ]}
]},
{"spacing": 16, "resolve": {"scale": {"color": "independent"}}, "hconcat": [
 {"width": 220, "height": 191, "data": {"name": "e"},
  "title": {"text": "(e)", "orient": "left", "anchor": "end", "frame": "group", "angle": 0, "align": "left", "baseline": "top", "offset": 10, "dy": -12},
  "mark": {"type": "line", "strokeWidth": 1.6, "clip": true},
  "encoding": {
   "x": {"field": "x", "type": "quantitative", "scale": {"domain": [0, 50], "nice": false, "zero": false}, "axis": {"title": "Time (ns)", "titlePadding": 1, "values": [0,5,10,15,20,25,30,35,40,45,50], "labelExpr": "datum.value % 10 === 0 ? datum.label : ''", "tickSize": {"condition": {"test": "datum.value % 10 === 0", "value": 5}, "value": 3}}},
   "y": {"field": "y", "type": "quantitative", "scale": {"type": "log", "domain": [0.01, 1.09], "nice": false}, "axis": {"title": "Normalized PL Intensity (a.u.)", "titlePadding": -4, "values": [0.01,0.02,0.03,0.04,0.05,0.06,0.07,0.08,0.09,0.1,0.2,0.3,0.4,0.5,0.6,0.7,0.8,0.9,1], "labelExpr": "indexof([0.001,0.01,0.1,1], datum.value) >= 0 ? format(datum.value, '~g') : ''", "tickSize": {"condition": {"test": "indexof([0.001,0.01,0.1,1], datum.value) >= 0", "value": 5}, "value": 3}}},
   "color": {"field": "s", "type": "nominal", "scale": {"domain": ["W/O QDs","With QDs"], "range": ["#3d3d3d","#ec2227"]}, "legend": {"title": null, "orient": "top-right"}}
  }},
 {"width": 235, "height": 187, "data": {"name": "f"},
  "title": {"text": "(f)", "orient": "left", "anchor": "end", "frame": "group", "angle": 0, "align": "left", "baseline": "top", "offset": 0, "dy": -1},
  "mark": {"type": "line", "strokeWidth": 1.6, "clip": true},
  "encoding": {
   "x": {"field": "x", "type": "quantitative", "scale": {"domain": [2.7, 50], "nice": false, "zero": false}, "axis": {"title": "Time (ns)", "titlePadding": 1, "values": [5,10,15,20,25,30,35,40,45,50], "labelExpr": "datum.value % 10 === 0 ? datum.label : ''", "tickSize": {"condition": {"test": "datum.value % 10 === 0", "value": 5}, "value": 3}}},
   "y": {"field": "y", "type": "quantitative", "scale": {"type": "log", "domain": [0.01, 1.03], "nice": false}, "axis": {"title": "Nromalized PL Intensity (a.u.)", "titlePadding": -4, "values": [0.01,0.02,0.03,0.04,0.05,0.06,0.07,0.08,0.09,0.1,0.2,0.3,0.4,0.5,0.6,0.7,0.8,0.9,1], "labelExpr": "indexof([0.001,0.01,0.1,1], datum.value) >= 0 ? format(datum.value, '~g') : ''", "tickSize": {"condition": {"test": "indexof([0.001,0.01,0.1,1], datum.value) >= 0", "value": 5}, "value": 3}}},
   "color": {"field": "s", "type": "nominal", "scale": {"domain": ["W/O QDs","With QDs"], "range": ["#000000","#ec2227"]}, "legend": {"title": null, "orient": "top-right"}}
  }},
 {"width": 219, "height": 187, "data": {"name": "g"},
  "title": {"text": "(g)", "orient": "left", "anchor": "end", "frame": "group", "angle": 0, "align": "left", "baseline": "top", "offset": 0, "dy": 2},
  "mark": {"type": "line", "strokeWidth": 1.6, "clip": true},
  "encoding": {
   "x": {"field": "x", "type": "quantitative", "scale": {"domain": [0, 50], "nice": false, "zero": false}, "axis": {"title": "Time (ns)", "titlePadding": 1, "values": [0,5,10,15,20,25,30,35,40,45,50], "labelExpr": "datum.value % 10 === 0 ? datum.label : ''", "tickSize": {"condition": {"test": "datum.value % 10 === 0", "value": 5}, "value": 3}}},
   "y": {"field": "y", "type": "quantitative", "scale": {"type": "log", "domain": [0.01, 1.04], "nice": false}, "axis": {"title": "Normalized PL Intensity (a.u.)", "titlePadding": -4, "values": [0.01,0.02,0.03,0.04,0.05,0.06,0.07,0.08,0.09,0.1,0.2,0.3,0.4,0.5,0.6,0.7,0.8,0.9,1], "labelExpr": "indexof([0.001,0.01,0.1,1], datum.value) >= 0 ? format(datum.value, '~g') : ''", "tickSize": {"condition": {"test": "indexof([0.001,0.01,0.1,1], datum.value) >= 0", "value": 5}, "value": 3}}},
   "color": {"field": "s", "type": "nominal", "scale": {"domain": ["W/O QDs","With QDs"], "range": ["#3d3d3d","#ec2227"]}, "legend": {"title": null, "orient": "top-right"}}
  }},
 {"width": 223, "height": 182, "data": {"name": "h"},
  "title": {"text": "(h)", "orient": "left", "anchor": "end", "frame": "group", "angle": 0, "align": "left", "baseline": "top", "offset": 8, "dy": 2},
  "mark": {"type": "line", "strokeWidth": 1.6, "clip": true},
  "encoding": {
   "x": {"field": "x", "type": "quantitative", "scale": {"domain": [2.2, 50], "nice": false, "zero": false}, "axis": {"title": "Time (ns)", "titlePadding": 1, "values": [5,10,15,20,25,30,35,40,45,50], "labelExpr": "datum.value % 10 === 0 ? datum.label : ''", "tickSize": {"condition": {"test": "datum.value % 10 === 0", "value": 5}, "value": 3}}},
   "y": {"field": "y", "type": "quantitative", "scale": {"type": "log", "domain": [0.001, 1.2], "nice": false}, "axis": {"title": "Normalized PL Intensity (a.u.)", "titlePadding": -4, "values": [0.001,0.002,0.003,0.004,0.005,0.006,0.007,0.008,0.009,0.01,0.02,0.03,0.04,0.05,0.06,0.07,0.08,0.09,0.1,0.2,0.3,0.4,0.5,0.6,0.7,0.8,0.9,1], "labelExpr": "indexof([0.001,0.01,0.1,1], datum.value) >= 0 ? format(datum.value, '~g') : ''", "tickSize": {"condition": {"test": "indexof([0.001,0.01,0.1,1], datum.value) >= 0", "value": 5}, "value": 3}}},
   "color": {"field": "s", "type": "nominal", "scale": {"domain": ["W/O QDs","With QDs"], "range": ["#3d3d3d","#ec2227"]}, "legend": {"title": null, "orient": "top-right"}}
  }}
]}
],
"spacing": 13,
"config": {
 "view": {"stroke": "#8a8a8a", "strokeWidth": 1},
 "title": {"font": "Open Sans", "fontSize": 21, "fontWeight": "normal", "color": "#111"},
 "axis": {"grid": false, "labelFont": "Liberation Sans", "labelFontSize": 12.5, "labelColor": "#222", "titleFont": "Liberation Sans", "titleFontSize": 15.5, "titleFontWeight": "normal", "titleColor": "#222", "titlePadding": 2, "domainColor": "#8a8a8a", "tickColor": "#666", "labelPadding": 2},
 "legend": {"offset": 6, "padding": 3, "strokeColor": "#aaaaaa", "fillColor": "#ffffff", "symbolType": "M-2,0L2,0", "symbolSize": 169, "symbolStrokeWidth": 2.5, "symbolOffset": 7, "labelFont": "Liberation Sans", "labelFontSize": 12, "labelColor": "#222", "rowPadding": 2, "labelOffset": 9}
}
}
